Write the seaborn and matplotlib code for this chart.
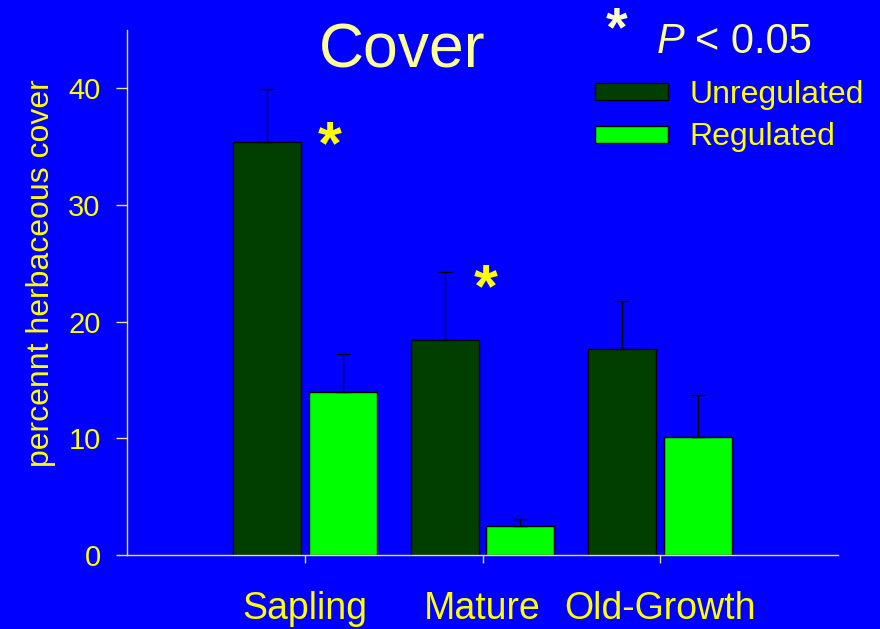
import pandas as pd
import matplotlib.pyplot as plt
import seaborn as sns

sns.set_theme(style='white')
plt.rcParams['font.family'] = ['Liberation Sans', 'DejaVu Sans']

# values
stands = ['Sapling', 'Mature', 'Old-Growth']
treatments = ['Unregulated', 'Regulated']
unregulated = [35.4, 18.4, 17.7]
regulated = [14.0, 2.5, 10.1]
unregulated_se = [4.5, 5.9, 4.1]
regulated_se = [3.2, 0.6, 3.6]
yticks = [0, 10, 20, 30, 40]

BLUE = '#0000FF'
YELLOW = '#FFFF00'
PALE = '#FFFF99'
colors = ['#003F00', '#00FF00']

df = pd.DataFrame({
    'stand': stands * 2,
    'cover': unregulated + regulated,
    'treatment': [treatments[0]] * 3 + [treatments[1]] * 3,
})
errors = {treatments[0]: unregulated_se, treatments[1]: regulated_se}

fig = plt.figure(figsize=(8.8, 6.29), dpi=100, facecolor=BLUE)
ax = fig.add_axes([127 / 880, 74 / 629, 711 / 880, 525 / 629])
ax.set_facecolor(BLUE)

sns.barplot(data=df, x='stand', y='cover', hue='treatment', palette=colors,
            saturation=1, width=0.855, gap=0.105, edgecolor='black', linewidth=1,
            errorbar=None, ax=ax)

# one-sided error bars
for cont, name in zip(ax.containers, treatments):
    xs = [b.get_x() + b.get_width() / 2 for b in cont]
    ys = [b.get_height() for b in cont]
    ax.errorbar(xs, ys, yerr=[[0] * len(ys), errors[name]], fmt='none',
                ecolor='black', elinewidth=1, capsize=5, capthick=1, zorder=1)

ax.set_xlim(-1, 3)
ax.set_ylim(0, 45)
ax.set_yticks(yticks)
ax.set_xlabel('')
ax.set_ylabel('percennt herbaceous cover', fontsize=23, color=YELLOW)
ax.yaxis.set_label_coords(-0.1, 0.537)

for side in ['top', 'right']:
    ax.spines[side].set_visible(False)
for side in ['left', 'bottom']:
    ax.spines[side].set_color('#E8E860')
    ax.spines[side].set_linewidth(1)
ax.tick_params(axis='y', direction='out', length=8, width=1, color='#E8E860',
               labelsize=21, labelcolor=YELLOW, pad=11, left=True)
ax.tick_params(axis='x', direction='out', length=6, width=1, color='#E8E860',
               labelsize=27, labelcolor=YELLOW, pad=20, bottom=True)

# significance stars
ax.text(0.14, 33.6, '*', fontsize=44, fontweight='bold', color=YELLOW,
        ha='center', va='baseline')
ax.text(1.02, 21.3, '*', fontsize=44, fontweight='bold', color=YELLOW,
        ha='center', va='baseline')

fig.text(402 / 880, 1 - 68 / 629, 'Cover', fontsize=45, color=PALE,
         ha='center', va='baseline')
fig.text(617 / 880, 1 - 45 / 629, '*', fontsize=40, fontweight='bold',
         color='#FFFFCC', ha='center', va='baseline')
fig.text(657 / 880, 1 - 53 / 629, 'P', fontsize=30, style='italic',
         color=PALE, ha='left', va='baseline')
fig.text(695 / 880, 1 - 53 / 629, '< 0.05', fontsize=30, color=PALE,
         ha='left', va='baseline')

leg = ax.legend(loc='upper left', bbox_to_anchor=(595 / 880, 1 - 80 / 629),
                bbox_transform=fig.transFigure, frameon=False, fontsize=23,
                handlelength=2.3, handleheight=0.44, handletextpad=0.65,
                labelspacing=0.39, borderpad=0, borderaxespad=0)
for t in leg.get_texts():
    t.set_color(YELLOW)

fig.savefig('out.png', dpi=100, facecolor=BLUE)
